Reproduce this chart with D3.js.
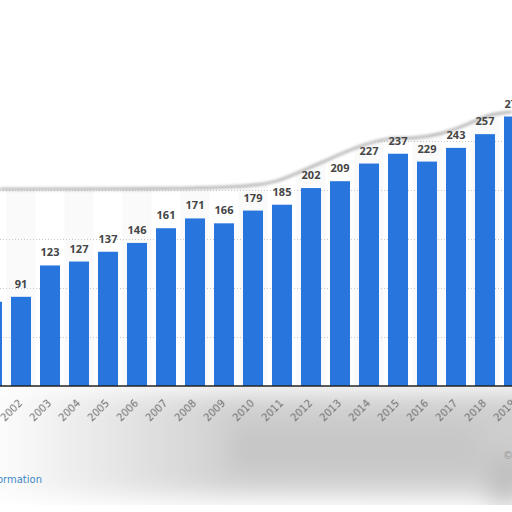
<!DOCTYPE html>
<html>
<head>
<meta charset="utf-8">
<script src="https://cdn.jsdelivr.net/npm/d3@7"></script>
<style>
  html, body { margin: 0; padding: 0; background: #fff; }
  svg { display: block; }
</style>
</head>
<body>
<div id="chart"></div>
<script>
// values (2001 is only a sliver at the left edge)
const years = ["2001", "2002", "2003", "2004", "2005", "2006", "2007", "2008", "2009", "2010",
  "2011", "2012", "2013", "2014", "2015", "2016", "2017", "2018", "2019"];
const values = [86, 91, 123, 127, 137, 146, 161, 171, 166, 179,
  185, 202, 209, 227, 237, 229, 243, 257, 275];
const gridTicks = [50, 100, 150, 200, 250];

const width = 512, height = 512;
const baseY = 386;

const svg = d3.select("#chart").append("svg")
  .attr("width", width)
  .attr("height", height);

const defs = svg.append("defs");
defs.append("filter").attr("id", "blur").attr("x", "-30%").attr("y", "-60%").attr("width", "160%").attr("height", "220%")
  .append("feGaussianBlur").attr("stdDeviation", 12);
defs.append("filter").attr("id", "soft").attr("x", "-5%").attr("y", "-50%").attr("width", "110%").attr("height", "200%")
  .append("feGaussianBlur").attr("stdDeviation", 1.5);
defs.append("filter").attr("id", "textblur")
  .append("feGaussianBlur").attr("stdDeviation", 0.35);
defs.append("clipPath").attr("id", "belowAxis")
  .append("rect").attr("x", 0).attr("y", baseY + 1).attr("width", width).attr("height", 118);

const grad = defs.append("linearGradient").attr("id", "shadeGrad")
  .attr("x1", "0").attr("x2", "1").attr("y1", "0").attr("y2", "0");
grad.append("stop").attr("offset", "0").attr("stop-color", "#ffffff");
grad.append("stop").attr("offset", "0.22").attr("stop-color", "#e8e8e8");
grad.append("stop").attr("offset", "0.45").attr("stop-color", "#d0d0d0");
grad.append("stop").attr("offset", "1").attr("stop-color", "#cecece");

let x = d3.scaleBand()
  .domain(years)
  .range([-27, 533])
  .padding(0.31);

let y = d3.scaleLinear()
  .domain([0, 300])
  .range([baseY, baseY - 294]);

// faint column bands in the plot area
svg.append("g")
  .selectAll("rect")
  .data(years.filter((d, i) => i % 2 === 1))
  .enter()
  .append("rect")
  .attr("x", d => x(d) - x.step() * x.paddingInner() / 2)
  .attr("y", y(300))
  .attr("width", x.step())
  .attr("height", baseY - y(300))
  .attr("fill", "#fafafa");

// dotted grid
svg.append("g")
  .call(d3.axisLeft(y).tickValues(gridTicks).tickSize(-width).tickFormat(""))
  .call(g => g.select(".domain").remove())
  .call(g => g.selectAll("line")
    .attr("stroke", "#c8c8c8")
    .attr("stroke-dasharray", "1,2"));

// torn upper edge of the screenshot: white above, soft shadow along the tear
const tear = [[0, 189], [120, 189], [262, 188], [290, 176], [323, 162], [356, 147], [389, 137],
  [413, 139], [443, 134], [469, 124], [489, 114], [512, 112]];
const tearLine = d3.line().curve(d3.curveBasis);
svg.append("path")
  .attr("d", tearLine(tear) + `L${width},0L0,0Z`)
  .attr("fill", "#fff");
svg.append("path")
  .attr("d", tearLine(tear))
  .attr("fill", "none")
  .attr("stroke", "#a0a0a0")
  .attr("stroke-width", 2.2)
  .attr("filter", "url(#soft)");

// bars
svg.append("g")
  .selectAll("rect")
  .data(values)
  .enter()
  .append("rect")
  .attr("x", (d, i) => x(years[i]))
  .attr("y", d => y(d))
  .attr("width", x.bandwidth())
  .attr("height", d => y(0) - y(d))
  .attr("fill", "#2876dd");

// value labels
svg.append("g")
  .selectAll("text")
  .data(values)
  .enter()
  .append("text")
  .attr("x", (d, i) => x(years[i]) + x.bandwidth() / 2)
  .attr("y", d => y(d) - 9)
  .attr("text-anchor", "middle")
  .style("font-family", "'Open Sans', sans-serif")
  .style("font-weight", "bold")
  .style("font-size", "11px")
  .style("fill", "#454545")
  .text(d => d);

// blurry grey shading below the axis
const shade = svg.append("g").attr("clip-path", "url(#belowAxis)")
  .append("g").attr("filter", "url(#blur)");
shade.append("rect").attr("x", -20).attr("y", 392).attr("width", 560).attr("height", 104).attr("fill", "url(#shadeGrad)");
shade.append("rect").attr("x", 230).attr("y", 425).attr("width", 250).attr("height", 45).attr("fill", "#c6c6c6");
shade.append("rect").attr("x", 490).attr("y", 455).attr("width", 30).attr("height", 50).attr("fill", "#bdbdbd");

// x axis
const xAxis = svg.append("g")
  .attr("transform", `translate(0,${baseY})`)
  .call(d3.axisBottom(x).tickSize(0).tickPadding(0));
xAxis.select(".domain")
  .attr("d", `M0,0H${width}`)
  .attr("stroke", "#222")
  .attr("stroke-width", 1.3);
xAxis.selectAll("text")
  .attr("y", 0)
  .attr("dy", 0)
  .attr("transform", "translate(2,18) rotate(-45)")
  .attr("text-anchor", "end")
  .attr("filter", "url(#textblur)")
  .style("font-family", "'DejaVu Sans', sans-serif")
  .style("font-size", "10px")
  .style("fill", "#6e6e6e");

// bottom border of the card
svg.append("line")
  .attr("x1", 0).attr("x2", width)
  .attr("y1", 506).attr("y2", 506)
  .attr("stroke", "#bdbdbd")
  .attr("stroke-width", 2)
  .attr("filter", "url(#soft)");

svg.append("text")
  .attr("x", 42)
  .attr("y", 483)
  .attr("text-anchor", "end")
  .style("font-family", "'DejaVu Sans', sans-serif")
  .style("font-size", "10px")
  .style("fill", "#3f88c5")
  .text("Additional Information");

svg.append("text")
  .attr("x", 503)
  .attr("y", 459)
  .style("font-family", "'DejaVu Sans', sans-serif")
  .style("font-size", "10px")
  .style("fill", "#999")
  .text("©");
</script>
</body>
</html>
